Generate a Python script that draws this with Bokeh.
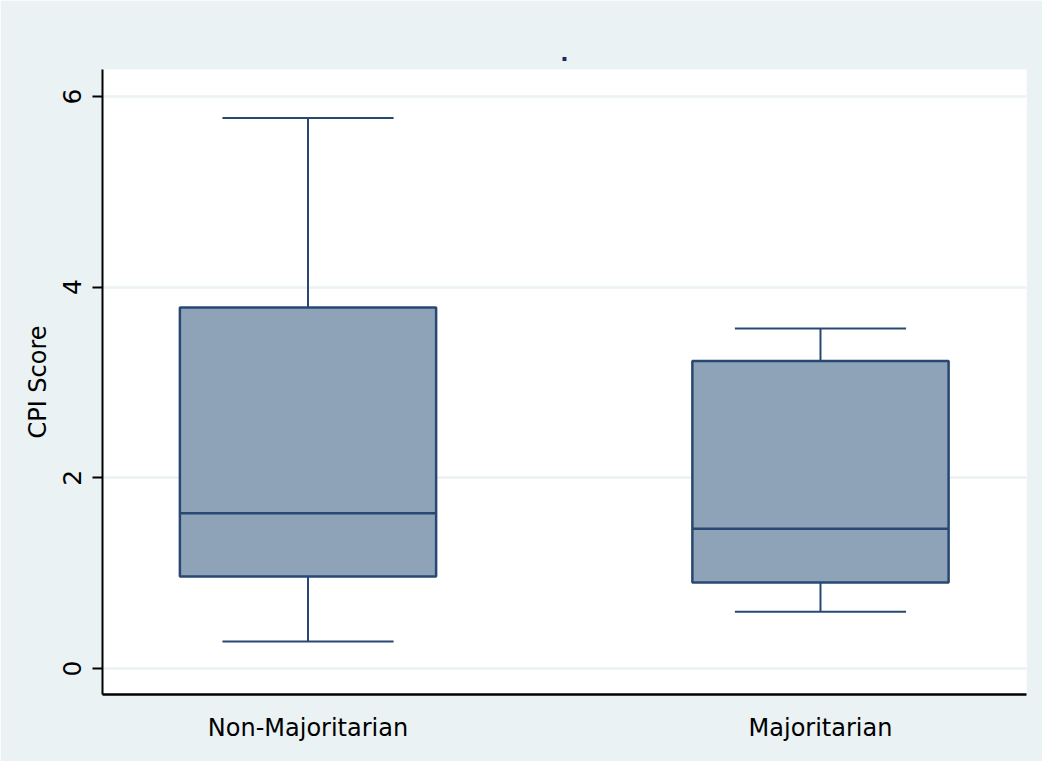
from bokeh.plotting import figure
from bokeh.models import FixedTicker, Range1d
from bokeh.embed import file_html
from bokeh.resources import INLINE

categories = ["Non-Majoritarian", "Majoritarian"]
positions = [1, 2]
lower_whisker = [0.283, 0.595]
q1 = [0.965, 0.902]
median = [1.629, 1.465]
q3 = [3.787, 3.224]
upper_whisker = [5.773, 3.567]
y_ticks = [0, 2, 4, 6]

BG = "#EAF2F3"
FILL = "#8FA3B8"
LINE = "#284874"
FONT = "DejaVu Sans"

p = figure(width=1042, height=761, output_backend="svg", toolbar_location=None,
           x_range=Range1d(0.599, 2.402), y_range=Range1d(-0.273, 6.283),
           min_border_left=102, min_border_right=16, min_border_top=69, min_border_bottom=67,
           title=".")
p.background_fill_color = "white"
p.border_fill_color = BG
p.outline_line_color = None

p.title.align = "center"
p.title.text_color = "#1E2A5A"
p.title.text_font = FONT
p.title.text_font_size = "22px"
p.title.text_font_style = "bold"
p.title.standoff = 18

box_w = 0.5
cap_w = 0.334

# whiskers
p.segment(x0=positions, y0=q3, x1=positions, y1=upper_whisker, line_color=LINE, line_width=2)
p.segment(x0=positions, y0=lower_whisker, x1=positions, y1=q1, line_color=LINE, line_width=2)
# caps
p.segment(x0=[x - cap_w / 2 for x in positions], y0=upper_whisker,
          x1=[x + cap_w / 2 for x in positions], y1=upper_whisker, line_color=LINE, line_width=2)
p.segment(x0=[x - cap_w / 2 for x in positions], y0=lower_whisker,
          x1=[x + cap_w / 2 for x in positions], y1=lower_whisker, line_color=LINE, line_width=2)
# boxes
p.vbar(x=positions, width=box_w, bottom=q1, top=q3, fill_color=FILL, line_color=LINE, line_width=2.5)
# medians
p.segment(x0=[x - box_w / 2 for x in positions], y0=median,
          x1=[x + box_w / 2 for x in positions], y1=median, line_color=LINE, line_width=2.5)

# y axis
p.yaxis.ticker = FixedTicker(ticks=y_ticks)
p.yaxis.axis_label = "CPI Score"
p.yaxis.axis_label_text_font = FONT
p.yaxis.axis_label_text_font_style = "normal"
p.yaxis.axis_label_text_font_size = "24px"
p.yaxis.axis_label_text_color = "black"
p.yaxis.axis_label_standoff = 9
p.yaxis.major_label_orientation = "vertical"
p.yaxis.major_label_text_font = FONT
p.yaxis.major_label_text_font_size = "25px"
p.yaxis.major_label_text_color = "black"
p.yaxis.major_label_standoff = 11
p.yaxis.axis_line_color = "black"
p.yaxis.axis_line_width = 2
p.yaxis.major_tick_line_color = "black"
p.yaxis.major_tick_line_width = 2
p.yaxis.major_tick_out = 10
p.yaxis.major_tick_in = 0
p.yaxis.minor_tick_line_color = None

# x axis
p.xaxis.ticker = FixedTicker(ticks=positions)
p.xaxis.major_label_overrides = {pos: cat for pos, cat in zip(positions, categories)}
p.xaxis.major_label_text_font = FONT
p.xaxis.major_label_text_font_size = "24px"
p.xaxis.major_label_text_color = "black"
p.xaxis.major_label_standoff = 13
p.xaxis.axis_line_color = "black"
p.xaxis.axis_line_width = 2.5
p.xaxis.major_tick_line_color = None
p.xaxis.minor_tick_line_color = None

p.xgrid.grid_line_color = None
p.ygrid.ticker = FixedTicker(ticks=y_ticks)
p.ygrid.grid_line_color = BG
p.ygrid.grid_line_width = 2.5

open("out.html", "w").write(file_html(p, INLINE))
